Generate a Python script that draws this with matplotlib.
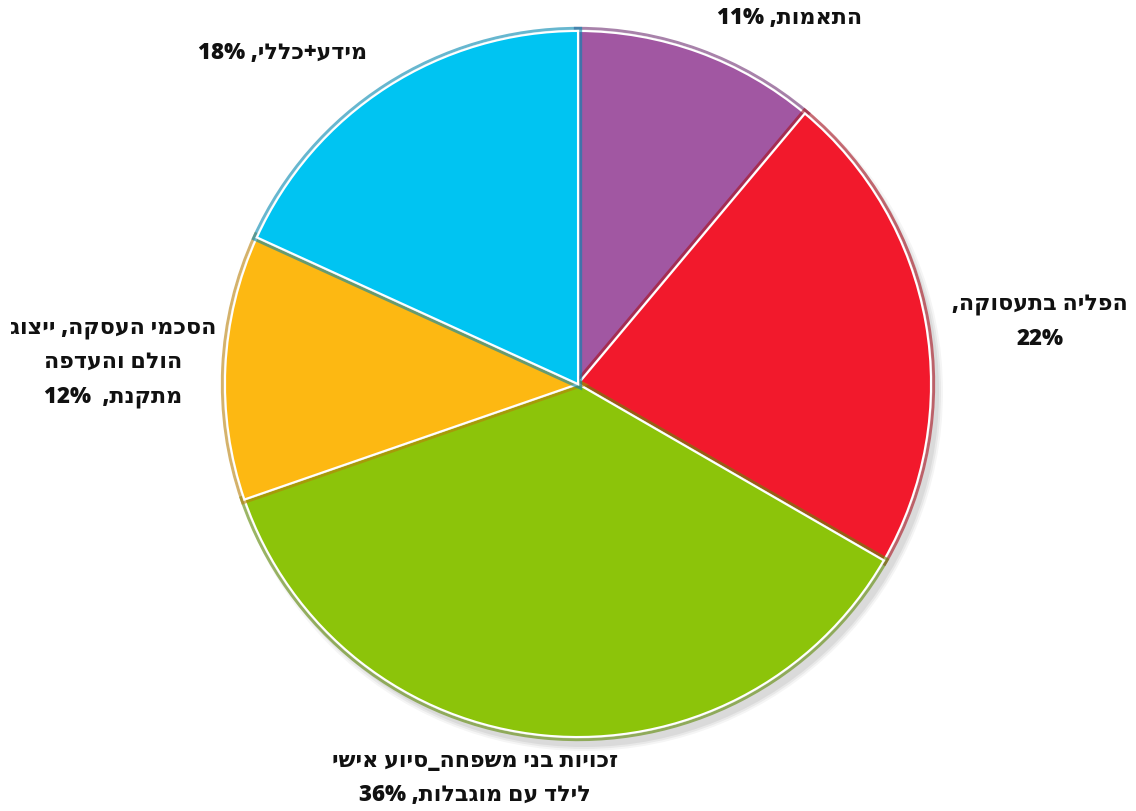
import re
import matplotlib
matplotlib.use('Agg')
from matplotlib import pyplot as plt
import matplotlib.patheffects as pe

# slices, clockwise from 12 o'clock
values = [11, 22, 36, 12, 18]
colors = ['#A157A2', '#F2192C', '#8CC40A', '#FDB812', '#00C4F2']
edge_colors = ['#6E2F72', '#A8101E', '#5E8A05', '#B87F08', '#0287B0']

# label text, in logical (RTL) order
label_texts = ['התאמות, 11%', 'הפליה בתעסוקה,\n22%', 'זכויות בני משפחה_סיוע אישי\nלילד עם מוגבלות, 36%',
               'הסכמי העסקה, ייצוג\nהולם והעדפה\nמתקנת,  12%', 'מידע+כללי, 18%']
label_pos = [(790, 18), (1040, 322), (475, 778), (113, 362), (283, 53)]


# matplotlib has no bidi support: flip each line, then put number runs back
def visual(s):
    out = []
    for line in s.split('\n'):
        r = line[::-1]
        r = re.sub(r'[0-9%]+', lambda m: m.group(0)[::-1], r)
        out.append(r)
    return '\n'.join(out)


W, H = 1136, 811
fig = plt.figure(figsize=(W / 100, H / 100), dpi=100)
ax = fig.add_axes([0, 0, 1, 1])

cx, cy, r = 578, H - 384, 353

# soft shadow under the pie
for i, a in enumerate([0.04, 0.05, 0.06]):
    ax.pie([1], radius=r + 6 - i * 2, center=(cx + 6, cy - 8), colors=['#000000'],
           wedgeprops=dict(alpha=a, linewidth=0), frame=True)

wedges, _ = ax.pie(values, radius=r, center=(cx, cy), colors=colors, startangle=90,
                   counterclock=False, frame=True,
                   wedgeprops=dict(linewidth=1.5, edgecolor='white'))
for w, ec in zip(wedges, edge_colors):
    w.set_path_effects([pe.Stroke(linewidth=6, foreground=ec, alpha=0.6),
                        pe.Stroke(linewidth=2, foreground='white', alpha=0.5),
                        pe.Normal()])

ax.set_xlim(0, W)
ax.set_ylim(0, H)
ax.set_aspect('equal')
ax.axis('off')

for t, (x, y) in zip(label_texts, label_pos):
    ax.text(x, H - y, visual(t), ha='center', va='center', multialignment='center',
            fontsize=16, fontweight='heavy', family=['Open Sans', 'DejaVu Sans'],
            linespacing=1.6, color='#111111')

fig.savefig('out.png', dpi=100)
